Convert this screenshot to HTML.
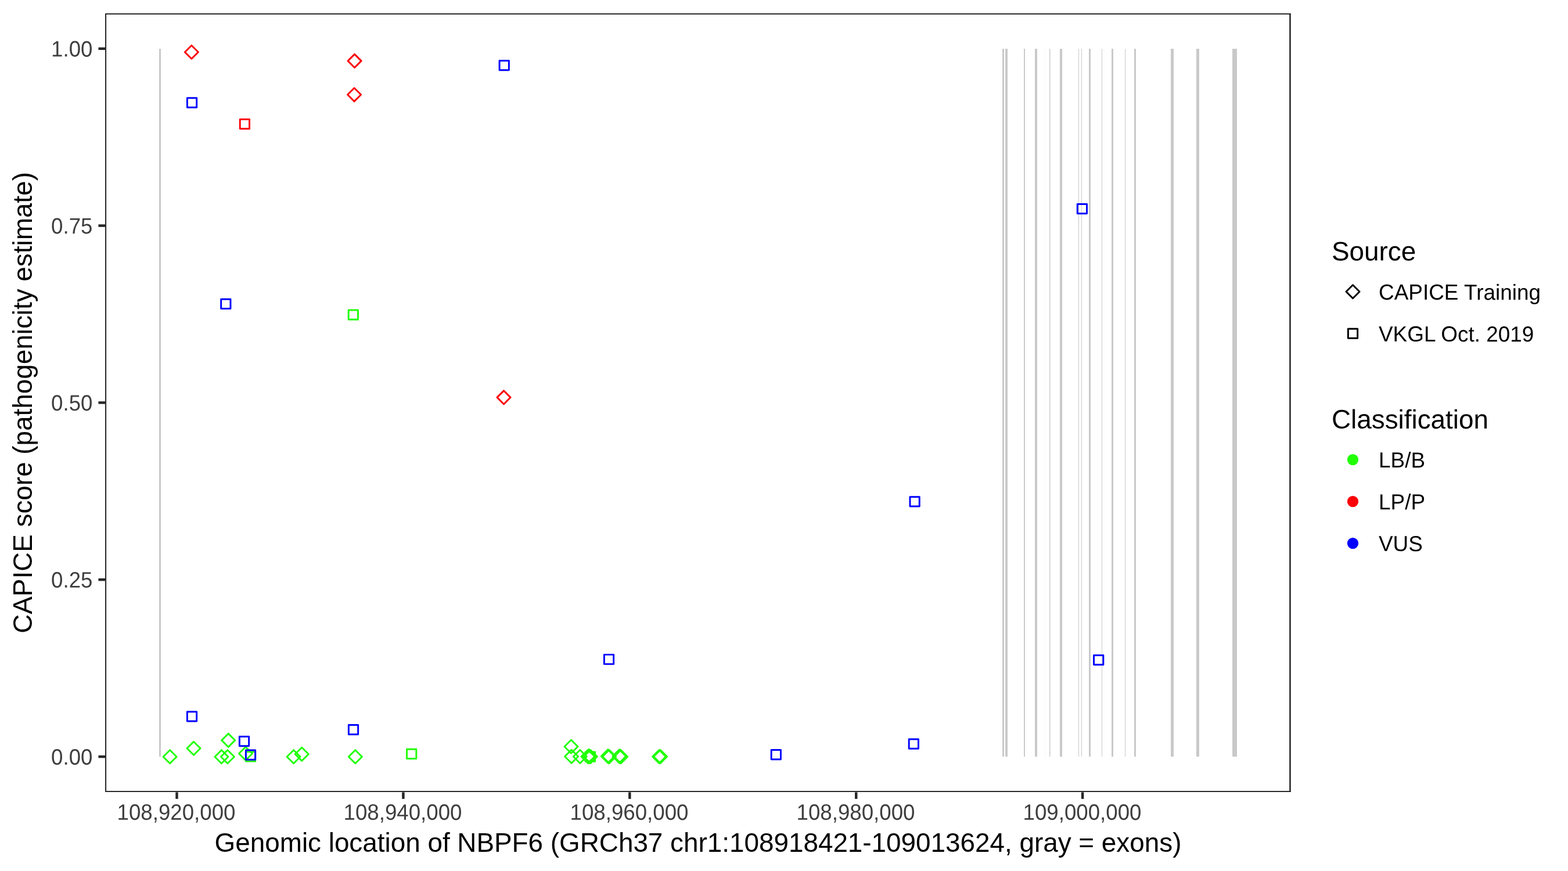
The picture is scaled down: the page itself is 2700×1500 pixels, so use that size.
<!DOCTYPE html>
<html lang="en"><head><meta charset="utf-8"><title>CAPICE score - NBPF6</title>
<style>
html,body{margin:0;padding:0;background:#fff;}
body{width:2700px;height:1500px;overflow:hidden;}
svg{display:block;}
text{font-family:"Liberation Sans",Arial,Helvetica,sans-serif;}
.tk{font-size:36.67px;fill:#3E3E3E;}
.lb{font-size:36.92px;fill:#000;}
.ti{font-size:45.83px;fill:#000;}
.p{fill:none;stroke-width:2.95;stroke-linejoin:round;}
</style></head><body>
<svg width="2700" height="1500" viewBox="0 0 2700 1500" role="img" aria-label="CAPICE score along NBPF6">
<rect x="0" y="0" width="2700" height="1500" fill="#ffffff"/>
<g shape-rendering="crispEdges">
<rect x="274" y="83.9" width="3" height="1219" fill="#C9C9C9"/>
<rect x="1726" y="83.9" width="3" height="1219" fill="#C9C9C9"/>
<rect x="1731" y="83.9" width="4" height="1219" fill="#C9C9C9"/>
<rect x="1763" y="83.9" width="2" height="1219" fill="#C9C9C9"/>
<rect x="1782" y="83.9" width="4" height="1219" fill="#C9C9C9"/>
<rect x="1799" y="83.9" width="1" height="1219" fill="#C9C9C9" fill-opacity="0.12"/>
<rect x="1807" y="83.9" width="1" height="1219" fill="#C9C9C9"/>
<rect x="1808" y="83.9" width="1" height="1219" fill="#C9C9C9" fill-opacity="0.45"/>
<rect x="1825" y="83.9" width="4" height="1219" fill="#C9C9C9"/>
<rect x="1857" y="83.9" width="1" height="1219" fill="#C9C9C9"/>
<rect x="1862" y="83.9" width="1" height="1219" fill="#C9C9C9"/>
<rect x="1875" y="83.9" width="3" height="1219" fill="#C9C9C9"/>
<rect x="1897" y="83.9" width="1" height="1219" fill="#C9C9C9"/>
<rect x="1914" y="83.9" width="3" height="1219" fill="#C9C9C9"/>
<rect x="1937" y="83.9" width="1" height="1219" fill="#C9C9C9"/>
<rect x="1953" y="83.9" width="3" height="1219" fill="#C9C9C9"/>
<rect x="2016" y="83.9" width="5" height="1219" fill="#C9C9C9"/>
<rect x="2060" y="83.9" width="5" height="1219" fill="#C9C9C9"/>
<rect x="2122" y="83.9" width="8" height="1219" fill="#C9C9C9"/>
</g>
<g class="p">
<path d="M281.08 1303.2L292.6 1291.68L304.12 1303.2L292.6 1314.72Z" stroke="#21FF06"/>
<path d="M321.98 1288.8L333.5 1277.28L345.02 1288.8L333.5 1300.32Z" stroke="#21FF06"/>
<path d="M369.88 1303.2L381.4 1291.68L392.92 1303.2L381.4 1314.72Z" stroke="#21FF06"/>
<path d="M380.33 1303.2L391.85 1291.68L403.37 1303.2L391.85 1314.72Z" stroke="#21FF06"/>
<path d="M381.68 1274.9L393.2 1263.38L404.72 1274.9L393.2 1286.42Z" stroke="#21FF06"/>
<path d="M411.38 1297.8L422.9 1286.28L434.42 1297.8L422.9 1309.32Z" stroke="#21FF06"/>
<path d="M494.08 1303.2L505.6 1291.68L517.12 1303.2L505.6 1314.72Z" stroke="#21FF06"/>
<path d="M508.18 1298.8L519.7 1287.28L531.22 1298.8L519.7 1310.32Z" stroke="#21FF06"/>
<path d="M600.28 1303.2L611.8 1291.68L623.32 1303.2L611.8 1314.72Z" stroke="#21FF06"/>
<path d="M971.93 1285.7L983.45 1274.18L994.97 1285.7L983.45 1297.22Z" stroke="#21FF06"/>
<path d="M972.55 1302.8L984.07 1291.28L995.59 1302.8L984.07 1314.32Z" stroke="#21FF06"/>
<path d="M987.28 1303L998.8 1291.48L1010.32 1303L998.8 1314.52Z" stroke="#21FF06"/>
<path d="M1001.02 1302.9L1012.54 1291.38L1024.06 1302.9L1012.54 1314.42Z" stroke="#21FF06"/>
<path d="M1002.58 1301.95L1014.1 1290.43L1025.62 1301.95L1014.1 1313.47Z" stroke="#21FF06"/>
<path d="M1003.08 1303L1014.6 1291.48L1026.12 1303L1014.6 1314.52Z" stroke="#21FF06"/>
<path d="M1005.21 1302.96L1016.73 1291.44L1028.25 1302.96L1016.73 1314.48Z" stroke="#21FF06"/>
<rect x="1008.33" y="1295.01" width="16.28" height="16.28" stroke="#21FF06"/>
<path d="M1035.33 1302.36L1046.85 1290.84L1058.37 1302.36L1046.85 1313.88Z" stroke="#21FF06"/>
<path d="M1036.38 1302.9L1047.9 1291.38L1059.42 1302.9L1047.9 1314.42Z" stroke="#21FF06"/>
<path d="M1037.53 1303.06L1049.05 1291.54L1060.57 1303.06L1049.05 1314.58Z" stroke="#21FF06"/>
<path d="M1054.89 1302.36L1066.41 1290.84L1077.93 1302.36L1066.41 1313.88Z" stroke="#21FF06"/>
<path d="M1056.28 1302.9L1067.8 1291.38L1079.32 1302.9L1067.8 1314.42Z" stroke="#21FF06"/>
<path d="M1057.64 1303.19L1069.16 1291.67L1080.68 1303.19L1069.16 1314.71Z" stroke="#21FF06"/>
<path d="M1123.45 1303.06L1134.97 1291.54L1146.49 1303.06L1134.97 1314.58Z" stroke="#21FF06"/>
<path d="M1125.64 1303.06L1137.16 1291.54L1148.68 1303.06L1137.16 1314.58Z" stroke="#21FF06"/>
<path d="M318.32 89.7L329.84 78.18L341.36 89.7L329.84 101.22Z" stroke="#FB0207"/>
<path d="M599.04 104.9L610.56 93.38L622.08 104.9L610.56 116.42Z" stroke="#FB0207"/>
<path d="M598.52 163.07L610.04 151.55L621.56 163.07L610.04 174.59Z" stroke="#FB0207"/>
<path d="M855.98 684.4L867.5 672.88L879.02 684.4L867.5 695.92Z" stroke="#FB0207"/>
<rect x="423.36" y="1294.86" width="16.28" height="16.28" stroke="#21FF06"/>
<rect x="700.56" y="1290.31" width="16.28" height="16.28" stroke="#21FF06"/>
<rect x="600.16" y="533.96" width="16.28" height="16.28" stroke="#21FF06"/>
<rect x="413.23" y="205.41" width="16.28" height="16.28" stroke="#FB0207"/>
<rect x="322.39" y="168.73" width="16.28" height="16.28" stroke="#0000FF"/>
<rect x="860.06" y="104.46" width="16.28" height="16.28" stroke="#0000FF"/>
<rect x="380.66" y="515.26" width="16.28" height="16.28" stroke="#0000FF"/>
<rect x="1855.26" y="351.51" width="16.28" height="16.28" stroke="#0000FF"/>
<rect x="1566.96" y="855.81" width="16.28" height="16.28" stroke="#0000FF"/>
<rect x="1040.36" y="1127.36" width="16.28" height="16.28" stroke="#0000FF"/>
<rect x="1883.56" y="1128.46" width="16.28" height="16.28" stroke="#0000FF"/>
<rect x="322.36" y="1225.66" width="16.28" height="16.28" stroke="#0000FF"/>
<rect x="412.36" y="1268.46" width="16.28" height="16.28" stroke="#0000FF"/>
<rect x="423.36" y="1292.06" width="16.28" height="16.28" stroke="#0000FF"/>
<rect x="600.36" y="1248.56" width="16.28" height="16.28" stroke="#0000FF"/>
<rect x="1328.16" y="1291.46" width="16.28" height="16.28" stroke="#0000FF"/>
<rect x="1565.16" y="1273.06" width="16.28" height="16.28" stroke="#0000FF"/>
</g>
<g>
<rect x="181" y="23.02" width="2041.7" height="1.86" fill="#1d1d1d"/>
<rect x="181" y="1362.12" width="2041.7" height="1.88" fill="#1d1d1d"/>
<rect x="181" y="23.02" width="2.1" height="1340.98" fill="#2c2c2c"/>
<rect x="2220.2" y="23.02" width="2.5" height="1340.98" fill="#222222"/>
</g>
<g stroke="#262626" stroke-width="4.45">
<line x1="169.45" y1="1303.1" x2="181" y2="1303.1"/>
<line x1="169.45" y1="998.27" x2="181" y2="998.27"/>
<line x1="169.45" y1="693.45" x2="181" y2="693.45"/>
<line x1="169.45" y1="388.62" x2="181" y2="388.62"/>
<line x1="169.45" y1="83.8" x2="181" y2="83.8"/>
<line x1="304.5" y1="1364.4" x2="304.5" y2="1375.85"/>
<line x1="694.4" y1="1364.4" x2="694.4" y2="1375.85"/>
<line x1="1084.3" y1="1364.4" x2="1084.3" y2="1375.85"/>
<line x1="1474.2" y1="1364.4" x2="1474.2" y2="1375.85"/>
<line x1="1864.1" y1="1364.4" x2="1864.1" y2="1375.85"/>
</g>
<text class="tk" text-anchor="end" transform="matrix(1 0.001 0 1.045 159.5 1316.7)">0.00</text>
<text class="tk" text-anchor="end" transform="matrix(1 0.001 0 1.045 159.5 1011.87)">0.25</text>
<text class="tk" text-anchor="end" transform="matrix(1 0.001 0 1.045 159.5 707.05)">0.50</text>
<text class="tk" text-anchor="end" transform="matrix(1 0.001 0 1.045 159.5 402.23)">0.75</text>
<text class="tk" text-anchor="end" transform="matrix(1 0.001 0 1.045 159.5 97.4)">1.00</text>
<text class="tk" text-anchor="middle" transform="matrix(1 0.001 0 1.045 303.5 1411.8)">108,920,000</text>
<text class="tk" text-anchor="middle" transform="matrix(1 0.001 0 1.045 693.5 1411.8)">108,940,000</text>
<text class="tk" text-anchor="middle" transform="matrix(1 0.001 0 1.045 1083.5 1411.8)">108,960,000</text>
<text class="tk" text-anchor="middle" transform="matrix(1 0.001 0 1.045 1473.5 1411.8)">108,980,000</text>
<text class="tk" text-anchor="middle" transform="matrix(1 0.001 0 1.045 1863.5 1411.8)">109,000,000</text>
<text class="ti" text-anchor="middle" x="1202" y="1466.8">Genomic location of NBPF6 (GRCh37 chr1:108918421-109013624, gray = exons)</text>
<text class="ti" text-anchor="middle" transform="translate(54.8 693.5) rotate(-90)">CAPICE score (pathogenicity estimate)</text>
<text class="ti" transform="matrix(1 0.001 0 1 2293 448.5)">Source</text>
<g class="p" stroke="#000">
<path d="M2317.98 502.3L2329.5 490.78L2341.02 502.3L2329.5 513.82Z"/>
<rect x="2321.36" y="566.16" width="16.28" height="16.28"/>
</g>
<text class="lb" transform="matrix(1 0.001 0 1.02 2374 516)">CAPICE Training</text>
<text class="lb" transform="matrix(1 0.001 0 1.015 2374 588)">VKGL Oct. 2019</text>
<text class="ti" transform="matrix(1 0.001 0 1 2293 737.8)">Classification</text>
<circle cx="2329.5" cy="791.6" r="9.65" fill="#21FF06"/>
<text class="lb" transform="matrix(1 0.001 0 1.015 2374 805.1)">LB/B</text>
<circle cx="2329.5" cy="863.65" r="9.65" fill="#FB0207"/>
<text class="lb" transform="matrix(1 0.001 0 1.015 2374 877.15)">LP/P</text>
<circle cx="2329.5" cy="935.6" r="9.65" fill="#0000FF"/>
<text class="lb" transform="matrix(1 0.001 0 1.015 2374 949.1)">VUS</text>
</svg>
</body></html>
